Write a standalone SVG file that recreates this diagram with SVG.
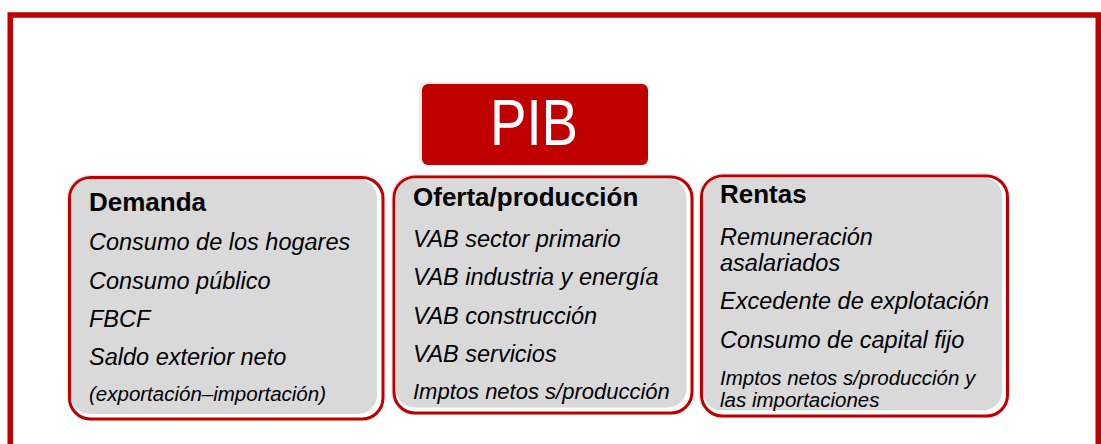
<svg xmlns="http://www.w3.org/2000/svg" width="1101" height="444" viewBox="0 0 1101 444">
<style>
.frame{fill:none;stroke:#c00000;stroke-width:5.5}
.box{fill:#ffffff;stroke:#c00000;stroke-width:3}
.fill{fill:#d9d9d9}
.shadow{fill:none;stroke:#e4e4e4;stroke-width:1.5}
.t{font-family:"Liberation Sans",Arial,sans-serif;font-size:26px;font-weight:bold;fill:#000}
.i{font-family:"Liberation Sans",Arial,sans-serif;font-size:23.5px;font-style:italic;fill:#000}
.s{font-family:"Liberation Sans",Arial,sans-serif;font-size:20.5px;font-style:italic;fill:#000}
.pib{font-family:"Liberation Sans",Arial,sans-serif;font-size:64px;fill:#ffffff}
</style>
<rect width="1101" height="444" fill="#ffffff"/>
<rect class="frame" x="10.25" y="15" width="1088" height="500"/>
<g id="pib">
<rect x="419" y="82" width="228" height="82" rx="6" fill="#ececec"/>
<rect x="422" y="84" width="226" height="81" rx="6" fill="#c00000"/>
<text class="pib" x="490" y="145" textLength="88" lengthAdjust="spacingAndGlyphs">PIB</text>
</g>
<g id="demanda">
<rect class="shadow" x="67.5" y="175.5" width="316" height="244" rx="22"/>
<rect class="box" x="69.5" y="177.5" width="313.5" height="241.5" rx="21"/>
<rect class="fill" x="71" y="179" width="306" height="235" rx="19"/>
<text class="t" x="89" y="211">Demanda</text>
<text class="i" x="89" y="250">Consumo de los hogares</text>
<text class="i" x="89" y="289">Consumo público</text>
<text class="i" x="89" y="327">FBCF</text>
<text class="i" x="89" y="365">Saldo exterior neto</text>
<text class="s" x="89" y="401" font-size="20px">(exportación–importación)</text>
</g>
<g id="oferta">
<rect class="shadow" x="392" y="175" width="301" height="239" rx="22"/>
<rect class="box" x="394" y="177" width="298" height="236" rx="21"/>
<rect class="fill" x="395.5" y="178.5" width="291" height="229" rx="19"/>
<text class="t" x="413" y="206">Oferta/producción</text>
<text class="i" x="413" y="247">VAB sector primario</text>
<text class="i" x="413" y="285">VAB industria y energía</text>
<text class="i" x="413" y="324">VAB construcción</text>
<text class="i" x="413" y="362">VAB servicios</text>
<text class="i" x="413" y="399" style="font-size:22px">Imptos netos s/producción</text>
</g>
<g id="rentas">
<rect class="shadow" x="699.5" y="174" width="309" height="243" rx="22"/>
<rect class="box" x="701.5" y="176" width="306" height="240" rx="21"/>
<rect class="fill" x="703" y="177.5" width="299" height="233" rx="19"/>
<text class="t" x="720" y="203">Rentas</text>
<text class="i" x="720" y="245">Remuneración</text>
<text class="i" x="720" y="271">asalariados</text>
<text class="i" x="720" y="309">Excedente de explotación</text>
<text class="i" x="720" y="348">Consumo de capital fijo</text>
<text class="s" x="720" y="385">Imptos netos s/producción y</text>
<text class="s" x="720" y="407">las importaciones</text>
</g>
<g id="connectors"></g>
</svg>
